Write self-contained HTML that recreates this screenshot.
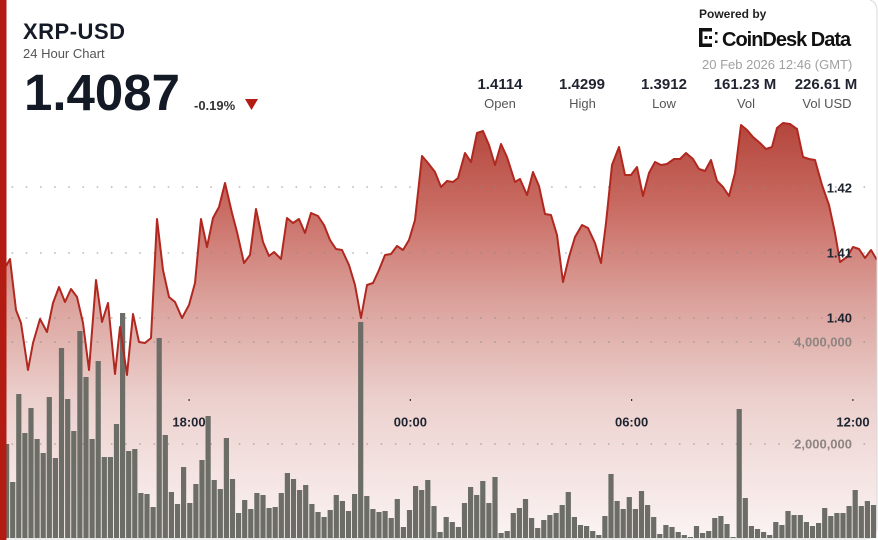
<!DOCTYPE html>
<html>
<head>
<meta charset="utf-8">
<style>
  html,body{margin:0;padding:0;background:#fff;}
  body{width:878px;height:540px;overflow:hidden;}
  svg{display:block;font-family:"Liberation Sans",Arial,sans-serif;}
</style>
</head>
<body>
<svg width="878" height="540" viewBox="0 0 878 540" xmlns="http://www.w3.org/2000/svg">
  <defs>
    <linearGradient id="fillg" gradientUnits="userSpaceOnUse" x1="0" y1="120" x2="0" y2="540">
      <stop offset="0" stop-color="#b3443a"/>
      <stop offset="0.2" stop-color="#c86a61"/>
      <stop offset="0.43" stop-color="#dba19b"/>
      <stop offset="0.67" stop-color="#ecd1ce"/>
      <stop offset="1" stop-color="#fbf4f4"/>
    </linearGradient>
    <clipPath id="cardclip">
      <rect x="6.5" y="0" width="870" height="538"/>
    </clipPath>
  </defs>

  <!-- card border -->
  <rect x="-10" y="-1" width="887" height="540" rx="11" ry="11" fill="#fff" stroke="#d9d9d9" stroke-width="1"/>

  <g clip-path="url(#cardclip)">
    <!-- area fill -->
    <path fill="url(#fillg)" d="M6,538 L6,266 10,259 16,310 21,323 28,370 33,343 40,319 47,332 53,303 59,287 65,302 71,289 77,297 83,323 89,370 96,280 102,322 108,303 115,374 120,327 127,375 133,314 139,342 145,343 151,338 157,219 163,270 169,297 175,302 182,318 189,305 195,283 201,219 207,247 213,218 219,207 225,183 232,213 237,232 244,263 250,255 256,209 263,242 269,256 274,252 281,259 287,218 293,223 299,219 305,233 311,213 318,216 324,225 330,240 336,249 342,250 349,265 355,285 361,318 367,285 373,283 379,270 385,255 391,254 397,246 403,250 409,240 415,220 422,156 428,163 435,172 441,187 447,181 453,182 458,178 465,153 471,162 477,133 483,131 489,145 495,165 501,144 507,157 515,182 520,179 527,195 533,172 539,186 545,214 551,215 557,235 563,282 569,257 575,237 582,225 588,228 595,243 601,263 606,223 612,165 619,147 625,175 631,175 637,167 643,196 649,173 655,162 661,165 667,164 674,159 680,159 686,153 693,159 699,169 705,171 711,160 717,181 723,187 729,196 735,173 741,125 747,130 753,137 760,143 766,149 772,147 777,128 783,123 790,124 797,129 803,157 809,159 815,160 822,185 829,205 835,233 840,262 847,257 853,247 859,249 865,258 871,250 877,260 L877,538 Z"/>

    <!-- dotted gridlines -->
    <g stroke="#8a8a8a" stroke-opacity="0.6" stroke-width="1.6" stroke-dasharray="1.6 12.6" fill="none">
      <line x1="11.5" y1="187" x2="877" y2="187"/>
      <line x1="11.5" y1="253" x2="877" y2="253"/>
      <line x1="11.5" y1="318" x2="877" y2="318"/>
      <line x1="11.5" y1="342" x2="877" y2="342"/>
      <line x1="11.5" y1="444" x2="877" y2="444"/>
    </g>

    <!-- volume bars -->
    <path fill="#6b6d66" d="
M4 444h5.2V538h-5.2Z M10.1 482h5.2V538h-5.2Z M16.2 394h5.2V538h-5.2Z M22.3 433h5.2V538h-5.2Z M28.4 408h5.2V538h-5.2Z
M34.5 439h5.2V538h-5.2Z M40.6 453h5.2V538h-5.2Z M46.7 397h5.2V538h-5.2Z M52.8 458h5.2V538h-5.2Z M58.9 348h5.2V538h-5.2Z
M65.1 399h5.2V538h-5.2Z M71.2 431h5.2V538h-5.2Z M77.3 331h5.2V538h-5.2Z M83.4 377h5.2V538h-5.2Z M89.5 439h5.2V538h-5.2Z
M95.6 361h5.2V538h-5.2Z M101.7 457h5.2V538h-5.2Z M107.8 457h5.2V538h-5.2Z M113.9 424h5.2V538h-5.2Z M120 313h5.2V538h-5.2Z
M126.1 451h5.2V538h-5.2Z M132.2 449h5.2V538h-5.2Z M138.3 493h5.2V538h-5.2Z M144.4 494h5.2V538h-5.2Z M150.5 507h5.2V538h-5.2Z
M156.6 338h5.2V538h-5.2Z M162.7 435h5.2V538h-5.2Z M168.8 492h5.2V538h-5.2Z M174.9 504h5.2V538h-5.2Z M181 467h5.2V538h-5.2Z
M187.2 503h5.2V538h-5.2Z M193.3 484h5.2V538h-5.2Z M199.4 460h5.2V538h-5.2Z M205.5 416h5.2V538h-5.2Z M211.6 480h5.2V538h-5.2Z
M217.7 489h5.2V538h-5.2Z M223.8 438h5.2V538h-5.2Z M229.9 479h5.2V538h-5.2Z M236 513h5.2V538h-5.2Z M242.1 500h5.2V538h-5.2Z
M248.2 509h5.2V538h-5.2Z M254.3 493h5.2V538h-5.2Z M260.4 495h5.2V538h-5.2Z M266.5 508h5.2V538h-5.2Z M272.6 507h5.2V538h-5.2Z
M278.7 493h5.2V538h-5.2Z M284.8 473h5.2V538h-5.2Z M290.9 479h5.2V538h-5.2Z M297 490h5.2V538h-5.2Z M303.1 485h5.2V538h-5.2Z
M309.3 504h5.2V538h-5.2Z M315.4 512h5.2V538h-5.2Z M321.5 517h5.2V538h-5.2Z M327.6 510h5.2V538h-5.2Z M333.7 495h5.2V538h-5.2Z
M339.8 501h5.2V538h-5.2Z M345.9 511h5.2V538h-5.2Z M352 494h5.2V538h-5.2Z M358.1 322h5.2V538h-5.2Z M364.2 496h5.2V538h-5.2Z
M370.3 509h5.2V538h-5.2Z M376.4 512h5.2V538h-5.2Z M382.5 511h5.2V538h-5.2Z M388.6 518h5.2V538h-5.2Z M394.7 499h5.2V538h-5.2Z
M400.8 527h5.2V538h-5.2Z M406.9 510h5.2V538h-5.2Z M413 486h5.2V538h-5.2Z M419.1 490h5.2V538h-5.2Z M425.2 480h5.2V538h-5.2Z
M431.4 506h5.2V538h-5.2Z M437.5 532h5.2V538h-5.2Z M443.6 517h5.2V538h-5.2Z M449.7 522h5.2V538h-5.2Z M455.8 527h5.2V538h-5.2Z
M461.9 503h5.2V538h-5.2Z M468 487h5.2V538h-5.2Z M474.1 495h5.2V538h-5.2Z M480.2 481h5.2V538h-5.2Z M486.3 503h5.2V538h-5.2Z
M492.4 477h5.2V538h-5.2Z M498.5 533h5.2V538h-5.2Z M504.6 531h5.2V538h-5.2Z M510.7 513h5.2V538h-5.2Z M516.8 508h5.2V538h-5.2Z
M522.9 499h5.2V538h-5.2Z M529 518h5.2V538h-5.2Z M535.1 528h5.2V538h-5.2Z M541.2 520h5.2V538h-5.2Z M547.3 515h5.2V538h-5.2Z
M553.5 513h5.2V538h-5.2Z M559.6 505h5.2V538h-5.2Z M565.7 492h5.2V538h-5.2Z M571.8 517h5.2V538h-5.2Z M577.9 525h5.2V538h-5.2Z
M584 526h5.2V538h-5.2Z M590.1 531h5.2V538h-5.2Z M596.2 535h5.2V538h-5.2Z M602.3 516h5.2V538h-5.2Z M608.4 474h5.2V538h-5.2Z
M614.5 501h5.2V538h-5.2Z M620.6 509h5.2V538h-5.2Z M626.7 497h5.2V538h-5.2Z M632.8 509h5.2V538h-5.2Z M638.9 491h5.2V538h-5.2Z
M645 505h5.2V538h-5.2Z M651.1 517h5.2V538h-5.2Z M657.2 534h5.2V538h-5.2Z M663.3 525h5.2V538h-5.2Z M669.4 527h5.2V538h-5.2Z
M675.6 532h5.2V538h-5.2Z M681.7 535h5.2V538h-5.2Z M687.8 537h5.2V538h-5.2Z M693.9 526h5.2V538h-5.2Z M700 533h5.2V538h-5.2Z
M706.1 531h5.2V538h-5.2Z M712.2 518h5.2V538h-5.2Z M718.3 516h5.2V538h-5.2Z M724.4 524h5.2V538h-5.2Z M730.5 537h5.2V538h-5.2Z
M736.6 409h5.2V538h-5.2Z M742.7 498h5.2V538h-5.2Z M748.8 526h5.2V538h-5.2Z M754.9 529h5.2V538h-5.2Z M761 532h5.2V538h-5.2Z
M767.1 535h5.2V538h-5.2Z M773.2 522h5.2V538h-5.2Z M779.3 525h5.2V538h-5.2Z M785.4 511h5.2V538h-5.2Z M791.5 515h5.2V538h-5.2Z
M797.7 515h5.2V538h-5.2Z M803.8 522h5.2V538h-5.2Z M809.9 526h5.2V538h-5.2Z M816 523h5.2V538h-5.2Z M822.1 508h5.2V538h-5.2Z
M828.2 516h5.2V538h-5.2Z M834.3 513h5.2V538h-5.2Z M840.4 513h5.2V538h-5.2Z M846.5 506h5.2V538h-5.2Z M852.6 490h5.2V538h-5.2Z
M858.7 506h5.2V538h-5.2Z M864.8 501h5.2V538h-5.2Z M870.9 505h5.2V538h-5.2Z"/>

    <!-- price line -->
    <polyline fill="none" stroke="#b0281f" stroke-width="2" stroke-linejoin="round" points="6,266 10,259 16,310 21,323 28,370 33,343 40,319 47,332 53,303 59,287 65,302 71,289 77,297 83,323 89,370 96,280 102,322 108,303 115,374 120,327 127,375 133,314 139,342 145,343 151,338 157,219 163,270 169,297 175,302 182,318 189,305 195,283 201,219 207,247 213,218 219,207 225,183 232,213 237,232 244,263 250,255 256,209 263,242 269,256 274,252 281,259 287,218 293,223 299,219 305,233 311,213 318,216 324,225 330,240 336,249 342,250 349,265 355,285 361,318 367,285 373,283 379,270 385,255 391,254 397,246 403,250 409,240 415,220 422,156 428,163 435,172 441,187 447,181 453,182 458,178 465,153 471,162 477,133 483,131 489,145 495,165 501,144 507,157 515,182 520,179 527,195 533,172 539,186 545,214 551,215 557,235 563,282 569,257 575,237 582,225 588,228 595,243 601,263 606,223 612,165 619,147 625,175 631,175 637,167 643,196 649,173 655,162 661,165 667,164 674,159 680,159 686,153 693,159 699,169 705,171 711,160 717,181 723,187 729,196 735,173 741,125 747,130 753,137 760,143 766,149 772,147 777,128 783,123 790,124 797,129 803,157 809,159 815,160 822,185 829,205 835,233 840,262 847,257 853,247 859,249 865,258 871,250 877,260"/>
  </g>

  <!-- axis labels -->
  <g font-size="13" font-weight="bold" fill="#1f2430" text-anchor="end">
    <text x="852" y="192.5">1.42</text>
    <text x="852" y="257.5">1.41</text>
    <text x="852" y="322.5">1.40</text>
  </g>
  <g font-size="13" font-weight="bold" fill="#8e8482" text-anchor="end">
    <text x="852" y="346.5">4,000,000</text>
    <text x="852" y="448.5">2,000,000</text>
  </g>
  <g fill="#333">
    <rect x="188.5" y="399" width="1.2" height="2"/>
    <rect x="409.8" y="399" width="1.2" height="2"/>
    <rect x="631" y="399" width="1.2" height="2"/>
    <rect x="852.3" y="399" width="1.2" height="2"/>
  </g>
  <g font-size="13" font-weight="bold" fill="#1f2430" text-anchor="middle">
    <text x="189" y="426.5">18:00</text>
    <text x="410.4" y="426.5">00:00</text>
    <text x="631.6" y="426.5">06:00</text>
    <text x="853" y="426.5">12:00</text>
  </g>

  <!-- red left stripe -->
  <rect x="0" y="0" width="6.5" height="540" fill="#b21c12"/>

  <!-- header -->
  <text x="23" y="39" font-size="22" font-weight="bold" fill="#141b27" letter-spacing="0.5">XRP-USD</text>
  <text x="23" y="58" font-size="13" fill="#555">24 Hour Chart</text>
  <text x="24" y="110" font-size="51" font-weight="bold" fill="#131a26">1.4087</text>
  <text x="194" y="110" font-size="13" font-weight="bold" fill="#333">-0.19%</text>
  <polygon points="245,99 258,99 251.5,110" fill="#b21c12"/>

  <!-- powered by -->
  <text x="699" y="18" font-size="12" font-weight="bold" fill="#222">Powered by</text>
  <g fill="#111">
    <rect x="699" y="28" width="3.5" height="19"/>
    <rect x="699" y="28" width="13" height="3.5"/>
    <rect x="699" y="43.5" width="13" height="3.5"/>
    <rect x="704.5" y="36" width="3" height="3"/>
    <rect x="709" y="36" width="3" height="3"/>
    <rect x="715" y="32" width="2.5" height="2.5"/>
    <rect x="715" y="40.5" width="2.5" height="2.5"/>
  </g>
  <text x="722" y="46" font-size="20" font-weight="bold" fill="#111" letter-spacing="-1">CoinDesk Data</text>
  <text x="702" y="69" font-size="13" fill="#a0a0a0">20 Feb 2026 12:46 (GMT)</text>

  <!-- stats -->
  <g font-size="15" font-weight="bold" fill="#1f2430" text-anchor="middle">
    <text x="500" y="89">1.4114</text>
    <text x="582" y="89">1.4299</text>
    <text x="664" y="89">1.3912</text>
    <text x="745" y="89">161.23 M</text>
    <text x="826" y="89">226.61 M</text>
  </g>
  <g font-size="13" fill="#555" text-anchor="middle">
    <text x="500" y="108">Open</text>
    <text x="582.5" y="108">High</text>
    <text x="664" y="108">Low</text>
    <text x="746" y="108">Vol</text>
    <text x="827" y="108">Vol USD</text>
  </g>
</svg>
</body>
</html>
